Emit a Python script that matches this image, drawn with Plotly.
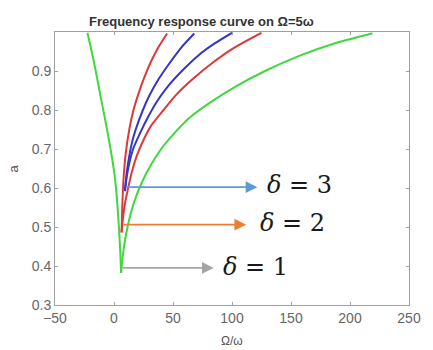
import plotly.graph_objects as go

# ---- data ----
# delta = 1 (green)
d1_left_x = [-22.5, -17, -11.5, -7.8, -4.1, -1.3, 1.0, 2.8, 4.3, 5.4, 6]
d1_left_y = [0.998, 0.923, 0.837, 0.78, 0.72, 0.67, 0.62, 0.56, 0.493, 0.43, 0.382]
d1_right_x = [6, 7.2, 9.0, 11.5, 14.6, 18.9, 24.5, 31.5, 40, 51, 64, 82, 103, 128, 158, 186, 219]
d1_right_y = [0.382, 0.42, 0.46, 0.50, 0.54, 0.58, 0.62, 0.66, 0.70, 0.74, 0.78, 0.82, 0.86, 0.90, 0.94, 0.97, 0.997]

# delta = 2 (red)
d2_left_x = [45, 37.5, 31.2, 25.2, 20.2, 16.5, 13.0, 10.0, 8.0, 7.0, 6.4]
d2_left_y = [0.996, 0.96, 0.923, 0.88, 0.837, 0.80, 0.751, 0.69, 0.62, 0.55, 0.486]
d2_right_x = [6.4, 7.5, 9.3, 12.0, 15.0, 19.0, 24.5, 31.5, 42, 53, 67, 83, 102, 125]
d2_right_y = [0.486, 0.52, 0.56, 0.60, 0.64, 0.68, 0.72, 0.76, 0.80, 0.84, 0.88, 0.92, 0.96, 0.998]

# delta = 3 (blue)
d3_left_x = [68, 57, 47.8, 38, 30, 24.5, 18.5, 15.5, 12.8, 10.6, 9.3]
d3_left_y = [0.996, 0.96, 0.923, 0.88, 0.837, 0.80, 0.751, 0.72, 0.68, 0.635, 0.592]
d3_right_x = [9.3, 10.4, 12.7, 16.2, 22, 28.5, 36, 45.5, 57.5, 71.5, 85, 100]
d3_right_y = [0.592, 0.62, 0.66, 0.70, 0.74, 0.78, 0.82, 0.86, 0.90, 0.94, 0.97, 0.998]

curve_colors = ["#3fd83f", "#dc3a3a", "#3535cc"]

# arrows (tail x, head x, y) and labels
arrow_tail_x = [6, 7, 10]
arrow_head_x = [84.5, 112, 121.5]
arrow_y = [0.395, 0.506, 0.602]
arrow_colors = ["#a5a5a5", "#ed7d31", "#5b9bd5"]
label_x = [90.5, 121.9, 127.7]
label_y = [0.397, 0.51, 0.608]
label_text = ["<i>δ</i> = 1", "<i>δ</i> = 2", "<i>δ</i> = 3"]

x_ticks = [-50, 0, 50, 100, 150, 200, 250]
y_ticks = [0.3, 0.4, 0.5, 0.6, 0.7, 0.8, 0.9]

fig = go.Figure()
branches = [
    (d1_left_x, d1_left_y, 0), (d1_right_x, d1_right_y, 0),
    (d2_left_x, d2_left_y, 1), (d2_right_x, d2_right_y, 1),
    (d3_left_x, d3_left_y, 2), (d3_right_x, d3_right_y, 2),
]
for bx, by, ci in branches:
    fig.add_trace(go.Scatter(x=bx, y=by, mode="lines",
                             line=dict(color=curve_colors[ci], width=2, shape="spline", smoothing=0.7),
                             showlegend=False, hoverinfo="skip"))

annotations = []
for tx, hx, yy, col in zip(arrow_tail_x, arrow_head_x, arrow_y, arrow_colors):
    annotations.append(dict(x=hx, y=yy, ax=tx, ay=yy, xref="x", yref="y", axref="x", ayref="y",
                            text="", showarrow=True, arrowhead=2, arrowsize=1.3, arrowwidth=1.8,
                            arrowcolor=col, standoff=0, startstandoff=0))
for lx, ly, t in zip(label_x, label_y, label_text):
    annotations.append(dict(x=lx, y=ly, xref="x", yref="y", text=t, showarrow=False,
                            xanchor="left", yanchor="middle",
                            font=dict(family="DejaVu Serif", size=24, color="#1a1a1a")))

annotations.append(dict(text="<b>Frequency response curve on Ω=5ω</b>", x=0.413, y=1.04,
                        xref="paper", yref="paper", showarrow=False, xanchor="center", yanchor="middle",
                        font=dict(family="Liberation Sans", size=13, color="#333333")))
annotations.append(dict(text="Ω/ω", x=0.5, y=-0.133, xref="paper", yref="paper", showarrow=False,
                        xanchor="center", yanchor="middle",
                        font=dict(family="Liberation Sans", size=12, color="#555555")))
annotations.append(dict(text="a", x=-0.116, y=0.5, xref="paper", yref="paper", showarrow=False,
                        textangle=-90, xanchor="center", yanchor="middle",
                        font=dict(family="Liberation Sans", size=13, color="#555555")))

axis_common = dict(showline=True, linecolor="#a0a0a0", linewidth=1, mirror="ticks",
                   ticks="inside", ticklen=3, tickcolor="#a0a0a0", showgrid=False, zeroline=False,
                   tickfont=dict(family="Liberation Sans", size=14, color="#666666"))

fig.update_layout(
    width=433, height=350,
    margin=dict(l=55, r=15, t=32, b=45),
    paper_bgcolor="white", plot_bgcolor="white",
    xaxis=dict(range=[-50, 250], tickvals=x_ticks, **axis_common),
    yaxis=dict(range=[0.3, 1.0], tickvals=y_ticks, ticktext=[f"{v:.1f}" for v in y_ticks], **axis_common),
    annotations=annotations,
    showlegend=False,
)

fig.write_html("out.html")
